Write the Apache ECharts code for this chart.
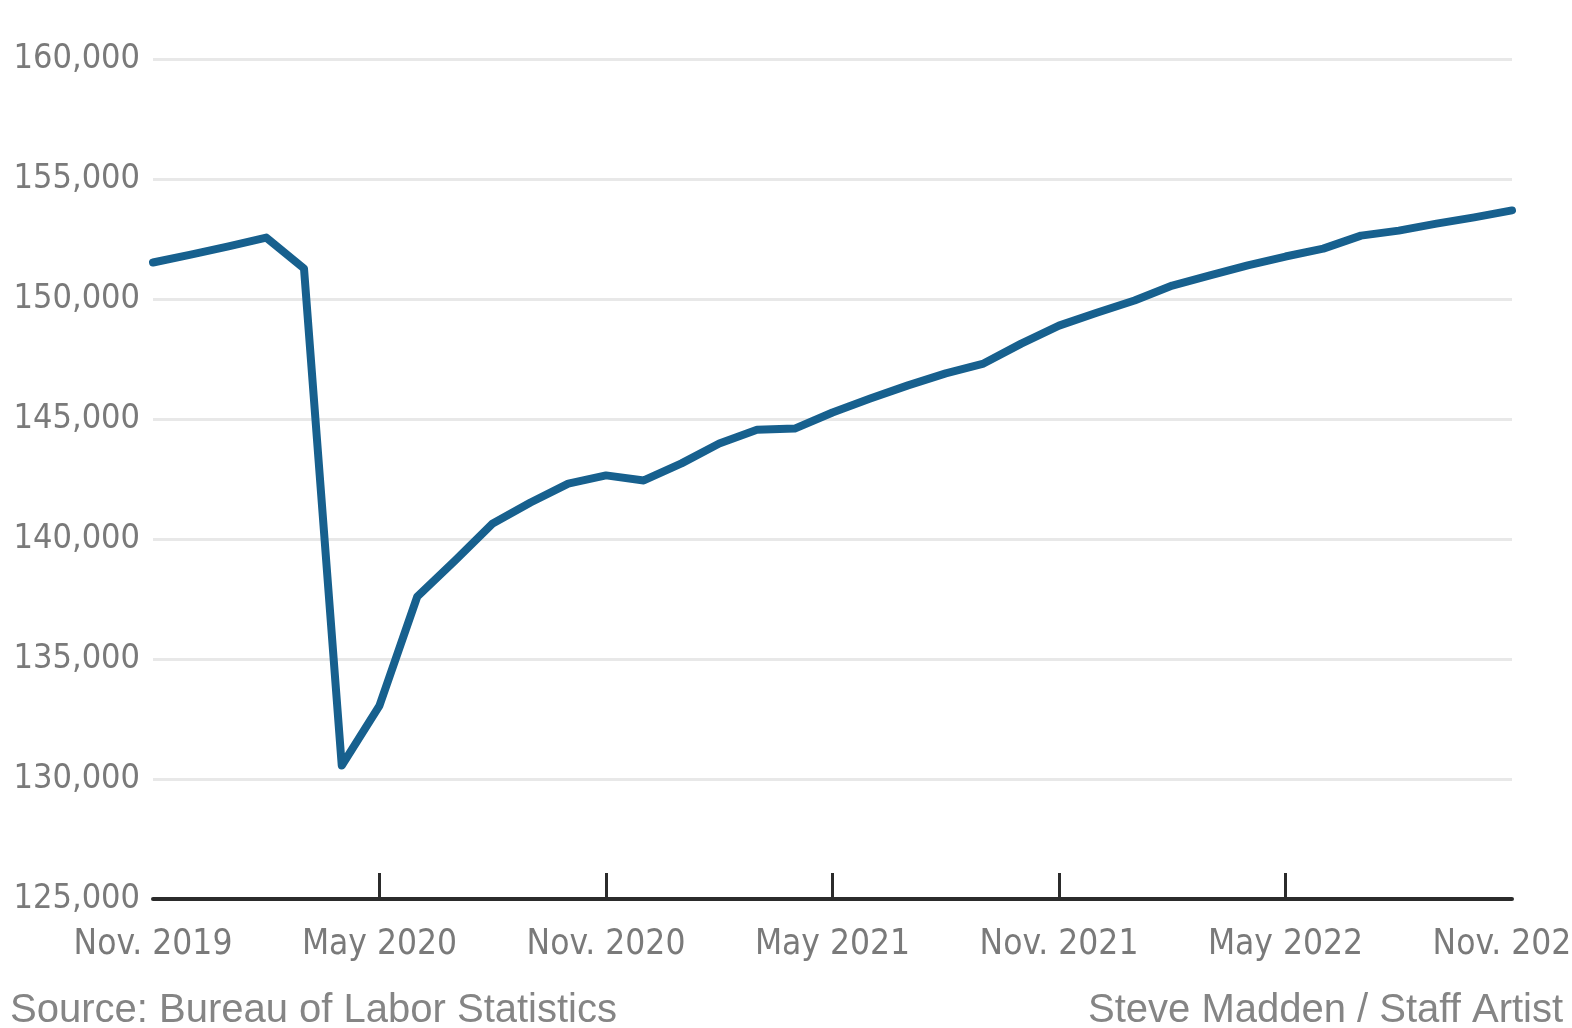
<!DOCTYPE html>
<html>
<head>
<meta charset="utf-8">
<style>
html,body{margin:0;padding:0;background:#fff;}
#chart{width:1572px;height:1028px;}
</style>
<script src="https://cdn.jsdelivr.net/npm/echarts@6/dist/echarts.min.js"></script>
</head>
<body>
<div id="chart"></div>
<script>
const months = ['Nov. 2019','Dec. 2019','Jan. 2020','Feb. 2020','Mar. 2020','Apr. 2020','May 2020','Jun. 2020','Jul. 2020','Aug. 2020','Sep. 2020','Oct. 2020','Nov. 2020','Dec. 2020','Jan. 2021','Feb. 2021','Mar. 2021','Apr. 2021','May 2021','Jun. 2021','Jul. 2021','Aug. 2021','Sep. 2021','Oct. 2021','Nov. 2021','Dec. 2021','Jan. 2022','Feb. 2022','Mar. 2022','Apr. 2022','May 2022','Jun. 2022','Jul. 2022','Aug. 2022','Sep. 2022','Oct. 2022','Nov. 2022'];
const employment = [151520,151850,152190,152560,151270,130560,133060,137600,139100,140650,141520,142310,142650,142440,143150,143980,144550,144600,145270,145850,146400,146900,147310,148140,148890,149430,149940,150560,150980,151400,151770,152100,152640,152850,153140,153400,153690];
const yTicks = [125000,130000,135000,140000,145000,150000,155000,160000];
const sourceText = 'Source: Bureau of Labor Statistics';
const creditText = 'Steve Madden / Staff Artist';

const labelFont = '"Liberation Sans Narrow","DejaVu Sans Condensed","Roboto",sans-serif';
const chart = echarts.init(document.getElementById('chart'), null, {renderer:'canvas'});
chart.setOption({
  animation:false,
  backgroundColor:'#ffffff',
  grid:{left:153,right:60,top:59,bottom:129,containLabel:false,outerBoundsMode:'none'},
  xAxis:{
    type:'category',
    data:months,
    boundaryGap:false,
    axisLine:{show:true,lineStyle:{color:'#2b2b2b',width:4}},
    axisTick:{show:true,inside:true,length:26,lineStyle:{color:'#2b2b2b',width:3},
      interval:function(i){return i%6===0 && i!==0 && i!==months.length-1;}},
    axisLabel:{interval:5,margin:28,color:'#7a7a7a',fontSize:35,fontFamily:labelFont},
    splitLine:{show:false}
  },
  yAxis:{
    type:'value',
    min:yTicks[0],
    max:yTicks[yTicks.length-1],
    interval:5000,
    axisLine:{show:false},
    axisTick:{show:false},
    axisLabel:{margin:13,color:'#7a7a7a',fontSize:34,fontFamily:labelFont,
      formatter:function(v){return v.toLocaleString('en-US');}},
    splitLine:{show:true,lineStyle:{color:'#e8e8e8',width:3}}
  },
  series:[{
    type:'line',
    data:employment,
    symbol:'none',
    lineStyle:{color:'#17608e',width:8,join:'round',cap:'round'},
    z:5
  }],
  graphic:[
    {type:'text',left:10,top:991,style:{text:sourceText,fill:'#858585',fontSize:40,fontFamily:'"Liberation Sans","Roboto",sans-serif'}},
    {type:'text',left:1088,top:991,style:{text:creditText,fill:'#858585',fontSize:40,fontFamily:'"Liberation Sans","Roboto",sans-serif'}}
  ]
});
</script>
</body>
</html>
